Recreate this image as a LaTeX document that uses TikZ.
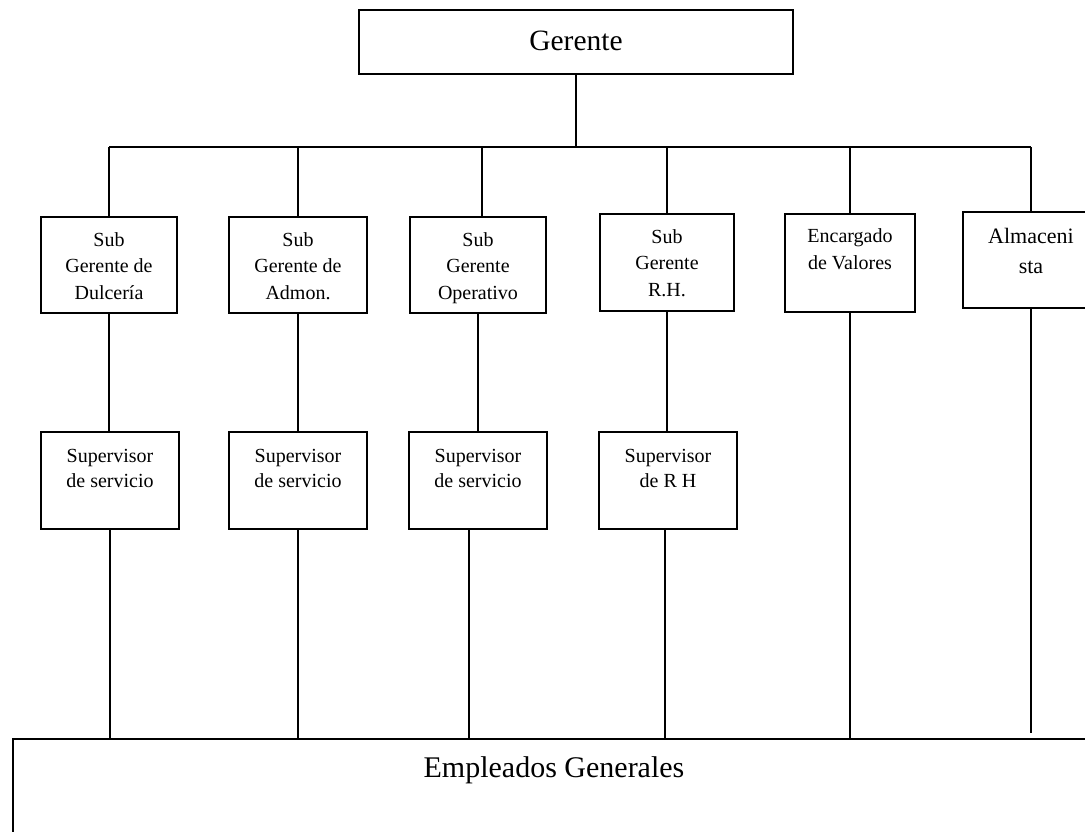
\documentclass[tikz,border=0pt]{standalone}
\usepackage{fontspec}
\setmainfont{Liberation Serif}
\usetikzlibrary{calc}

% box text: width, height, first baseline, font size, line spacing, text
\newcommand\orgtext[6]{\parbox[t][#2pt][t]{#1pt}{\centering\fontsize{#4pt}{#5pt}\selectfont\rule{0pt}{#3pt}#6}}

\tikzset{
  orgbox/.style={draw, line width=2pt, inner sep=0pt, anchor=north west},
  link/.style={line width=2pt},
}

\begin{document}
\begin{tikzpicture}[x=1pt, y=-1pt]
  \path[use as bounding box, clip] (0,0) rectangle (1085,831);

  % top
  \node[orgbox] (g) at (358,9) {\orgtext{434}{64}{40}{29.5}{34}{Gerente}};

  % first level
  \node[orgbox] (b1) at (40,216)  {\orgtext{136}{96}{29}{20}{26.5}{Sub\\Gerente de\\Dulcería}};
  \node[orgbox] (b2) at (228,216) {\orgtext{138}{96}{29}{20}{26.5}{Sub\\Gerente de\\Admon.}};
  \node[orgbox] (b3) at (409,216) {\orgtext{136}{96}{29}{20}{26.5}{Sub\\Gerente\\Operativo}};
  \node[orgbox] (b4) at (599,213) {\orgtext{134}{97}{29}{20}{26.5}{Sub\\Gerente\\R.H.}};
  \node[orgbox] (b5) at (784,213) {\orgtext{130}{98}{28}{20}{27}{Encargado\\de Valores}};
  \node[orgbox] (b6) at (962,211) {\orgtext{136}{96}{31}{22}{30}{Almaceni\\sta}};

  % supervisors
  \node[orgbox] (s1) at (40,431)  {\orgtext{138}{97}{30}{20}{25}{Supervisor\\de servicio}};
  \node[orgbox] (s2) at (228,431) {\orgtext{138}{97}{30}{20}{25}{Supervisor\\de servicio}};
  \node[orgbox] (s3) at (408,431) {\orgtext{138}{97}{30}{20}{25}{Supervisor\\de servicio}};
  \node[orgbox] (s4) at (598,431) {\orgtext{138}{97}{30}{20}{25}{Supervisor\\de R H}};

  % staff
  \node[orgbox] (e) at (12,738) {\orgtext{1082}{130}{38}{30}{36}{Empleados Generales}};

  % distribution bus
  \coordinate (bus) at (575,147);
  \draw[link] (g.south) -- (g.south |- bus);
  \draw[link] (b1.north |- bus) -- (b6.north |- bus);
  \foreach \n in {b1,b2,b4,b5,b6}
    \draw[link] (\n.north) -- (\n.north |- bus);
  \draw[link] ($(b3.north)+(4,0)$) -- ($(b3.north |- bus)+(4,0)$);

  % sub managers to supervisors
  \foreach \i in {1,2,3,4}
    \draw[link] (b\i.south) -- (b\i.south |- s\i.north);

  % down to the staff
  \foreach \i in {1,2}
    \draw[link] (s\i.south) -- (s\i.south |- e.north);
  \draw[link] ($(s3.south)+(-9,0)$) -- ($(s3.south |- e.north)+(-9,0)$);
  \draw[link] ($(s4.south)+(-3,0)$) -- ($(s4.south |- e.north)+(-3,0)$);
  \draw[link] (b5.south) -- (b5.south |- e.north);
  \draw[link] (b6.south) -- ($(b6.south |- e.north)+(0,-5)$);
\end{tikzpicture}
\end{document}
